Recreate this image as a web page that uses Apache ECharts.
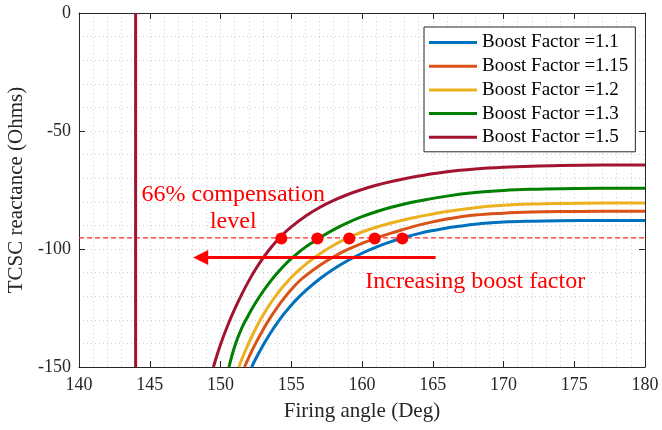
<!DOCTYPE html>
<html>
<head>
<meta charset="utf-8">
<title>TCSC reactance vs firing angle</title>
<script src="https://cdn.jsdelivr.net/npm/echarts@6/dist/echarts.min.js"></script>
<style>
  html, body { margin: 0; padding: 0; background: #ffffff; }
  #chart { width: 662px; height: 430px; }
</style>
</head>
<body>
<div id="chart"></div>
<script>
const FONT = "'Liberation Serif', 'Times New Roman', serif";
const AXIS_COLOR = "#262626";

// curves: firing angle (deg) / reactance (ohms)
const bf11X = [152.2, 152.5, 153, 153.5, 154, 154.5, 155, 155.5, 156, 157, 158, 159, 160, 161, 162, 163, 164, 165, 166, 168, 170, 172, 174, 177, 180];
const bf11Y = [-150, -146.4, -140.9, -135.9, -131.4, -127.4, -123.8, -120.6, -117.75, -112.7, -108.5, -104.9, -101.8, -99.2, -97.0, -95.1, -93.5, -92.2, -91.1, -89.5, -88.6, -88.2, -88.0, -87.9, -87.9];

const bf115X = [151.7, 152, 152.5, 153, 153.5, 154, 154.5, 155, 155.5, 156, 157, 158, 159, 160, 161, 162, 163, 164, 165, 166, 168, 170, 172, 174, 177, 180];
const bf115Y = [-150, -145.9, -139.8, -134.3, -129.3, -124.8, -120.8, -117.2, -114.0, -111.4, -107.0, -103.3, -100.2, -97.6, -95.4, -93.4, -91.6, -89.9, -88.5, -87.3, -85.6, -84.8, -84.35, -84.15, -84.05, -84.0];

const bf12X = [151.3, 151.5, 152, 152.5, 153, 153.5, 154, 154.5, 155, 155.5, 156, 157, 158, 159, 160, 161, 162, 163, 164, 166, 168, 170, 172, 174, 177, 180];
const bf12Y = [-150, -146.8, -139.8, -133.6, -128.1, -123.3, -119.1, -115.4, -112.1, -109.2, -106.6, -102.1, -98.4, -95.3, -92.8, -90.8, -89.1, -87.6, -86.3, -84.1, -82.5, -81.5, -80.95, -80.7, -80.55, -80.5];

const bf13X = [150.6, 151, 151.5, 152, 152.5, 153, 153.5, 154, 154.5, 155, 155.5, 156, 156.5, 157, 158, 159, 160, 161, 162, 163, 164, 166, 168, 170, 172, 174, 177, 180];
const bf13Y = [-150, -141.3, -133.5, -127.75, -122.6, -118.0, -113.9, -110.25, -107.0, -104.1, -101.5, -99.2, -97.2, -95.3, -91.8, -88.8, -86.3, -84.2, -82.4, -80.9, -79.7, -77.6, -76.1, -75.2, -74.7, -74.45, -74.3, -74.3];

const bf15X = [149.5, 150, 150.5, 151, 151.5, 152, 152.5, 153, 153.5, 154, 154.5, 155, 156, 157, 158, 159, 160, 161, 162, 163, 164, 166, 168, 170, 172, 174, 177, 180];
const bf15Y = [-150, -140.5, -132.5, -125.5, -119.2, -113.5, -108.4, -103.9, -99.9, -96.4, -93.3, -90.6, -86.1, -82.4, -79.4, -76.9, -74.8, -73.0, -71.5, -70.2, -69.1, -67.3, -66.1, -65.35, -64.9, -64.65, -64.45, -64.4];

const seriesNames = ["Boost Factor =1.1", "Boost Factor =1.15", "Boost Factor =1.2", "Boost Factor =1.3", "Boost Factor =1.5"];
const seriesColors = ["#0072BD", "#D95319", "#EDB120", "#008000", "#A2142F"];
const curvesX = [bf11X, bf115X, bf12X, bf13X, bf15X];
const curvesY = [bf11Y, bf115Y, bf12Y, bf13Y, bf15Y];

// 66% compensation level and its crossing points
const compLevelX = [140, 180];
const compLevelY = [-95.3, -95.3];
const crossX = [154.3, 156.85, 159.1, 160.9, 162.85];
const crossY = [-95.6, -95.6, -95.6, -95.6, -95.6];

// vertical limit at 144 deg
const limitX = [144, 144];
const limitY = [0, -150];

// arrow from right to left
const arrowX = [165.2, 148.6];
const arrowY = [-103.6, -103.6];

const notes = [
  { text: "66% compensation\nlevel", x: 150.9, y: -82.7 },
  { text: "Increasing boost factor", x: 168.0, y: -113.9 }
];

function pairs(xs, ys) {
  return xs.map((x, i) => [x, ys[i]]);
}

const gridDots = { color: "#d0d0d0", width: 1, type: [1, 3] };

function xAxisBase(pos) {
  return {
    type: "value",
    position: pos,
    min: 140,
    max: 180,
    interval: 5,
    axisLine: { show: true, onZero: false, lineStyle: { color: AXIS_COLOR, width: 1 } },
    axisTick: { show: true, inside: true, length: 6, lineStyle: { color: AXIS_COLOR } },
    minorTick: { show: false, splitNumber: 5 },
    splitLine: { show: pos === "bottom", lineStyle: gridDots },
    minorSplitLine: { show: pos === "bottom", lineStyle: gridDots },
    axisLabel: {
      show: pos === "bottom",
      margin: 9,
      color: AXIS_COLOR,
      fontFamily: FONT,
      fontSize: 18
    }
  };
}

function yAxisBase(pos) {
  return {
    type: "value",
    position: pos,
    min: -150,
    max: 0,
    interval: 50,
    axisLine: { show: true, onZero: false, lineStyle: { color: AXIS_COLOR, width: 1 } },
    axisTick: { show: true, inside: true, length: 6, lineStyle: { color: AXIS_COLOR } },
    minorTick: { show: false, splitNumber: 5 },
    splitLine: { show: pos === "left", lineStyle: gridDots },
    minorSplitLine: { show: pos === "left", lineStyle: gridDots },
    axisLabel: {
      show: pos === "left",
      margin: 8,
      color: AXIS_COLOR,
      fontFamily: FONT,
      fontSize: 18
    }
  };
}

const xBottom = xAxisBase("bottom");
xBottom.name = "Firing angle (Deg)";
xBottom.nameLocation = "middle";
xBottom.nameGap = 34;
xBottom.nameTextStyle = { color: AXIS_COLOR, fontFamily: FONT, fontSize: 21 };

const yLeft = yAxisBase("left");
yLeft.name = "TCSC reactance (Ohms)";
yLeft.nameLocation = "middle";
yLeft.nameGap = 47;
yLeft.nameTextStyle = { color: AXIS_COLOR, fontFamily: FONT, fontSize: 21 };

const series = [];

series.push({
  type: "line",
  name: "comp",
  data: pairs(compLevelX, compLevelY),
  symbol: "none",
  silent: true,
  lineStyle: { color: "#ff2a2a", width: 1.4, type: [5, 3] },
  z: 1
});

series.push({
  type: "line",
  name: "limit",
  data: pairs(limitX, limitY),
  symbol: "none",
  silent: true,
  lineStyle: { color: "#A2142F", width: 3 }
});

curvesX.forEach((xs, i) => {
  series.push({
    type: "line",
    name: seriesNames[i],
    data: pairs(xs, curvesY[i]),
    symbol: "none",
    smooth: 0.4,
    lineStyle: { color: seriesColors[i], width: 3 },
    itemStyle: { color: seriesColors[i] }
  });
});

series.push({
  type: "scatter",
  name: "cross",
  data: pairs(crossX, crossY),
  symbol: "circle",
  symbolSize: 12,
  itemStyle: { color: "#ff0000", opacity: 1 },
  z: 5
});

series.push({
  type: "line",
  name: "notes",
  data: [],
  symbol: "none",
  markLine: {
    silent: true,
    animation: false,
    symbol: ["none", "triangle"],
    symbolSize: 15,
    label: { show: false },
    lineStyle: { color: "#ff0000", width: 3, type: "solid" },
    data: [[
      { coord: [arrowX[0], arrowY[0]] },
      { coord: [arrowX[1], arrowY[1]] }
    ]]
  },
  markPoint: {
    silent: true,
    animation: false,
    symbol: "circle",
    symbolSize: 0,
    label: {
      show: true,
      position: "inside",
      color: "#ff0000",
      fontFamily: FONT,
      fontSize: 24,
      lineHeight: 27,
      align: "center",
      formatter: (p) => p.name
    },
    data: notes.map((n) => ({ name: n.text, coord: [n.x, n.y] }))
  },
  z: 6
});

const option = {
  backgroundColor: "#ffffff",
  animation: false,
  grid: { left: 79, right: 17, top: 13, bottom: 63, containLabel: false, outerBoundsMode: "none" },
  legend: {
    data: seriesNames,
    orient: "vertical",
    left: 424,
    top: 27,
    padding: [6, 7, 5, 5],
    icon: "rect",
    itemWidth: 48,
    itemHeight: 3,
    itemGap: 4.7,
    backgroundColor: "#ffffff",
    borderColor: AXIS_COLOR,
    borderWidth: 1,
    borderRadius: 0,
    textStyle: { color: "#000000", fontFamily: FONT, fontSize: 19, lineHeight: 19 }
  },
  xAxis: [xBottom, xAxisBase("top")],
  yAxis: [yLeft, yAxisBase("right")],
  series
};

const chart = echarts.init(document.getElementById("chart"), null, { renderer: "canvas" });
chart.setOption(option);
</script>
</body>
</html>
